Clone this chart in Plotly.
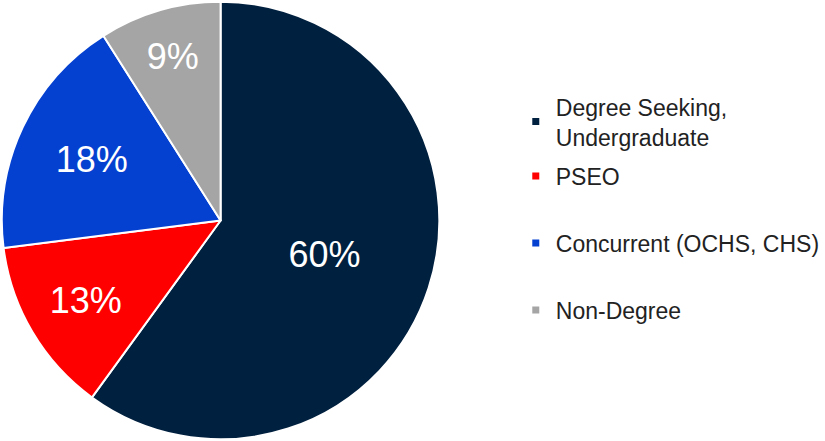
import plotly.graph_objects as go

labels = ["Degree Seeking,<br>Undergraduate", "PSEO", "Concurrent (OCHS, CHS)", "Non-Degree"]
values = [60, 13, 18, 9]
colors = ["#00203F", "#FF0000", "#0541D1", "#A5A5A5"]
legend_y = [0.724, 0.601, 0.449, 0.297]

FONT = "Liberation Sans, Arial, sans-serif"

fig = go.Figure()
fig.add_trace(go.Pie(
    labels=labels, values=values, sort=False, direction="clockwise", rotation=0,
    marker=dict(colors=colors, line=dict(color="white", width=2)),
    textinfo="percent", texttemplate="%{value}%", textposition="inside",
    insidetextorientation="horizontal",
    textfont=dict(color="white", size=36, family=FONT),
    showlegend=False, hoverinfo="label+percent",
    domain=dict(x=[0, 0.538], y=[0.004, 0.996]),
))

legend_layouts = {}
for i, (lab, col, ly) in enumerate(zip(labels, colors, legend_y)):
    name = "legend" if i == 0 else f"legend{i+1}"
    fig.add_trace(go.Scatter(
        x=[None], y=[None], mode="markers", name=lab,
        marker=dict(symbol="square", size=7, color=col),
        legend=name, showlegend=True, hoverinfo="skip",
    ))
    legend_layouts[name] = dict(
        x=0.629, y=ly, xanchor="left", yanchor="middle",
        font=dict(family=FONT, size=23, color="#222222"),
        bgcolor="rgba(0,0,0,0)", borderwidth=0,
    )

fig.update_layout(
    width=825, height=441,
    margin=dict(l=0, r=0, t=0, b=0),
    paper_bgcolor="white", plot_bgcolor="white",
    xaxis=dict(visible=False), yaxis=dict(visible=False),
    **legend_layouts,
)

fig.write_html("out.html", config={"displayModeBar": False},
               post_script="document.body.style.margin='0';")
